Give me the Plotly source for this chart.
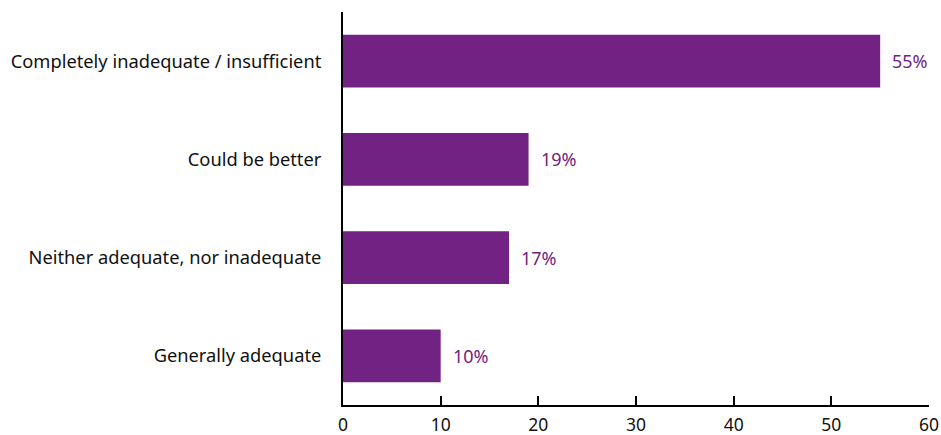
import plotly.graph_objects as go

categories = ["Completely inadequate / insufficient", "Could be better",
              "Neither adequate, nor inadequate", "Generally adequate"]
values = [55, 19, 17, 10]
labels = ["55%", "19%", "17%", "10%"]

purple = "#722282"

fig = go.Figure(go.Bar(
    y=categories, x=values, orientation="h",
    marker=dict(color=purple, line=dict(width=0)),
    width=0.535,
    cliponaxis=False,
))

for c, v, t in zip(categories, values, labels):
    fig.add_annotation(x=v, y=c, text=t, showarrow=False, xanchor="left",
                       xshift=10, font=dict(color=purple, size=18, family="Noto Sans"))

fig.update_layout(
    width=941, height=435,
    margin=dict(l=343, r=12, t=12, b=30, autoexpand=False),
    plot_bgcolor="white", paper_bgcolor="white",
    font=dict(family="Noto Sans", size=18.3, color="#111111"),
    showlegend=False,
)
fig.update_xaxes(
    range=[0, 60], tickvals=[0, 10, 20, 30, 40, 50, 60],
    showgrid=False, zeroline=False, automargin=False,
    showline=True, linecolor="black", linewidth=2,
    ticks="inside", ticklen=9, tickwidth=2, tickcolor="black",
    tickfont=dict(size=17.5), ticklabelstandoff=3, ticklabeloverflow="allow",
)
fig.update_yaxes(
    categoryorder="array", categoryarray=categories[::-1],
    showgrid=False, zeroline=False, automargin=False,
    showline=True, linecolor="black", linewidth=2,
    ticks="", ticklabelstandoff=16,
)

fig.write_html("out.html")
